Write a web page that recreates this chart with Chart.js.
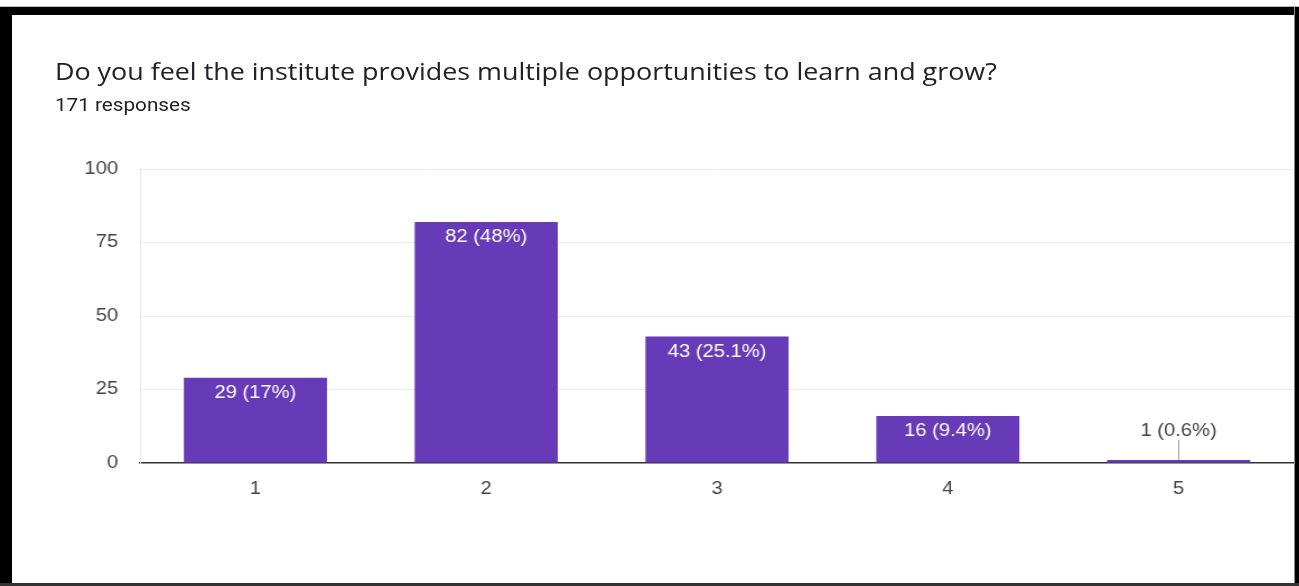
<!DOCTYPE html>
<html lang="en">
<head>
    <meta charset="UTF-8">
    <title>Opportunities to learn and grow</title>
    <script src="https://cdn.jsdelivr.net/npm/chart.js"></script>
    <style>
        body {
            margin: 0;
            width: 1299px;
            height: 586px;
            overflow: hidden;
            background: #fff;
            position: relative;
            font-family: Roboto, Arial, sans-serif;
        }

        /* the screenshot is a bit wider than tall, so the page is stretched the same way */
        .stretch {
            position: absolute;
            left: 0;
            top: 0;
            width: 1160px;
            height: 586px;
            transform: scaleX(1.12);
            transform-origin: 0 0;
        }

        .title {
            position: absolute;
            left: 49px;
            top: 59px;
            font-family: "Open Sans", Roboto, sans-serif;
            font-size: 24px;
            line-height: 24px;
            color: #202124;
            white-space: nowrap;
        }

        .subtitle {
            position: absolute;
            left: 49px;
            top: 95px;
            font-size: 18.5px;
            line-height: 20px;
            color: #202124;
            white-space: nowrap;
        }

        .chart-box {
            position: absolute;
            left: 0;
            top: 0;
            width: 1160px;
            height: 586px;
        }

        .edge { position: absolute; background: #000; }
    </style>
</head>
<body>
    <div class="stretch">
        <div class="title">Do you feel the institute provides multiple opportunities to learn and grow?</div>
        <div class="subtitle">171 responses</div>
        <div class="chart-box"><canvas id="chart"></canvas></div>
    </div>

    <!-- black frame round the screenshot -->
    <div class="edge" style="left:0;top:6px;width:1299px;height:1px;background:#bbb"></div>
    <div class="edge" style="left:0;top:7px;width:1299px;height:8px"></div>
    <div class="edge" style="left:0;top:7px;width:12px;height:579px"></div>
    <div class="edge" style="left:1294px;top:7px;width:1px;height:579px;background:#888"></div>
    <div class="edge" style="left:1295px;top:7px;width:4px;height:579px"></div>
    <div class="edge" style="left:0;top:583px;width:1299px;height:3px;background:#333"></div>

    <script>
        const categories = ['1', '2', '3', '4', '5'];
        const counts = [29, 82, 43, 16, 1];
        const percents = ['17%', '48%', '25.1%', '9.4%', '0.6%'];
        const yTicks = [0, 25, 50, 75, 100];

        const tickFont = { family: 'Arial, "Liberation Sans", sans-serif', size: 18 };

        // "82 (48%)" labels: white inside the bar, or above it with a short line when the bar is too thin
        const barLabels = {
            id: 'barLabels',
            afterDatasetsDraw(chart) {
                const ctx = chart.ctx;
                const meta = chart.getDatasetMeta(0);
                ctx.save();
                ctx.font = '18px Arial, "Liberation Sans", sans-serif';
                ctx.textAlign = 'center';
                ctx.textBaseline = 'middle';
                meta.data.forEach((bar, i) => {
                    const text = counts[i] + ' (' + percents[i] + ')';
                    const h = bar.base - bar.y;
                    if (h > 30) {
                        ctx.fillStyle = '#fff';
                        ctx.fillText(text, bar.x, bar.y + 15);
                    } else {
                        ctx.strokeStyle = '#999';
                        ctx.lineWidth = 1;
                        ctx.beginPath();
                        ctx.moveTo(Math.round(bar.x) + 0.5, bar.y);
                        ctx.lineTo(Math.round(bar.x) + 0.5, bar.y - 20);
                        ctx.stroke();
                        ctx.fillStyle = '#444';
                        ctx.fillText(text, bar.x, bar.y - 29);
                    }
                });
                ctx.restore();
            }
        };

        new Chart(document.getElementById('chart'), {
            type: 'bar',
            data: {
                labels: categories,
                datasets: [{
                    data: counts,
                    backgroundColor: '#673ab7',
                    barPercentage: 0.62,
                    categoryPercentage: 1
                }]
            },
            options: {
                responsive: true,
                maintainAspectRatio: false,
                animation: false,
                layout: { padding: { left: 0, right: 4.6, top: 169, bottom: 73 } },
                plugins: {
                    legend: { display: false },
                    tooltip: { enabled: false }
                },
                scales: {
                    x: {
                        grid: { display: false },
                        border: { display: true, color: '#333', width: 1.5 },
                        ticks: { color: '#444', font: tickFont, padding: 7 },
                        afterFit(scale) { scale.height = 50; }
                    },
                    y: {
                        min: 0,
                        max: 100,
                        afterBuildTicks(scale) {
                            scale.ticks = yTicks.map(v => ({ value: v }));
                        },
                        grid: {
                            drawTicks: false,
                            color: c => (c.tick && c.tick.value === 0) ? 'rgba(0,0,0,0)' : '#ececec'
                        },
                        border: { display: true, color: '#e6e6e6' },
                        ticks: { color: '#444', font: tickFont, padding: 19.6 },
                        afterFit(scale) { scale.width = 125; }
                    }
                }
            },
            plugins: [barLabels]
        });
    </script>
</body>
</html>
